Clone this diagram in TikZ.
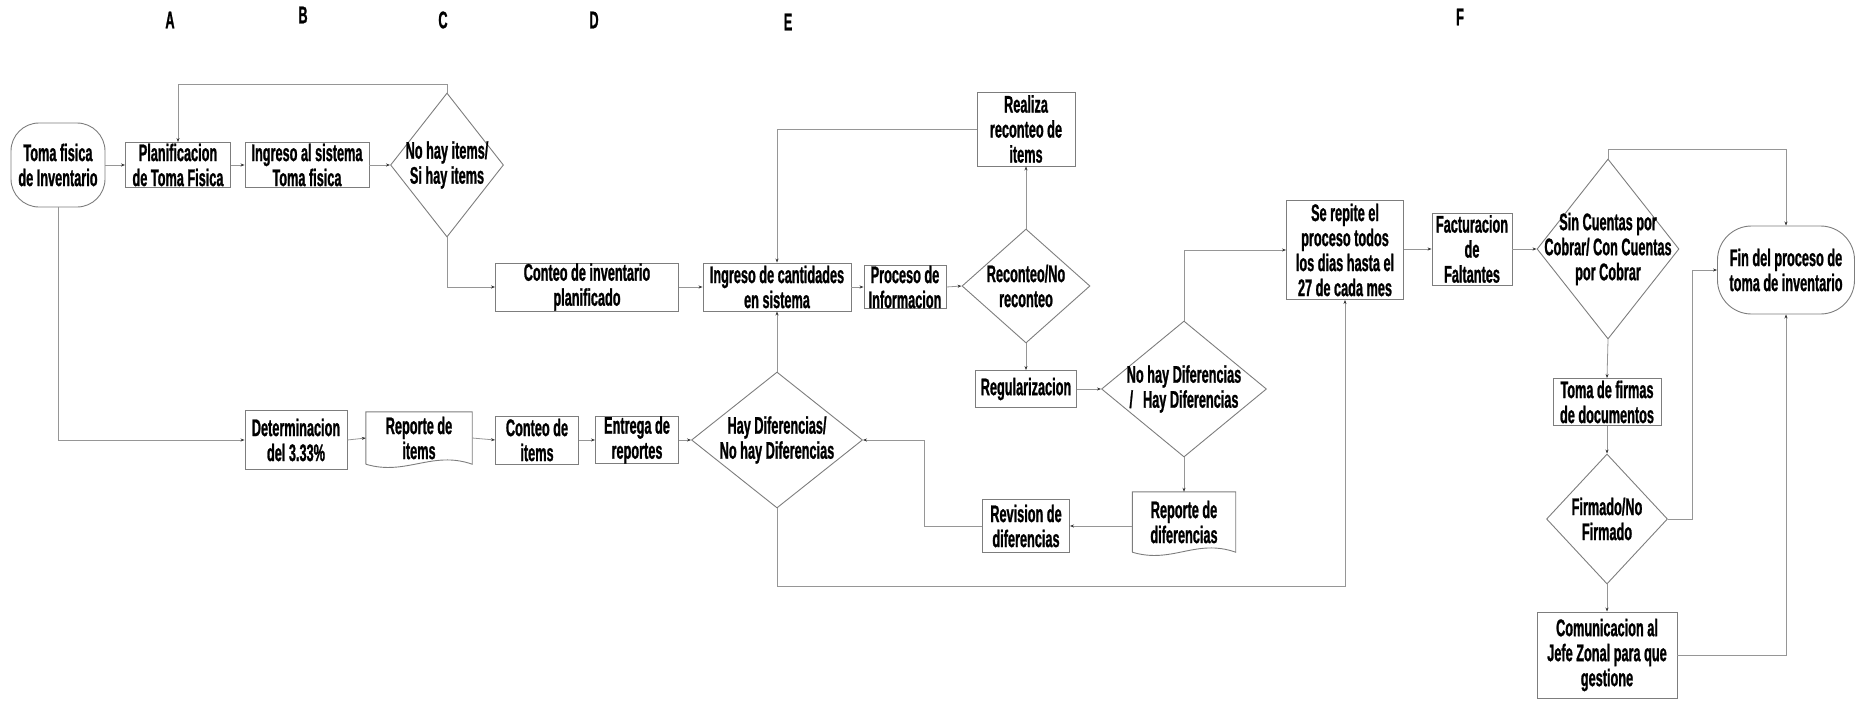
\documentclass[tikz,border=0pt]{standalone}
\usepackage{fontspec}
\setmainfont{Liberation Sans}[FakeStretch=0.53,FakeBold=1]
\usetikzlibrary{shapes.geometric,arrows.meta,calc}
\definecolor{lc}{RGB}{150,150,150}
\definecolor{bc}{RGB}{125,125,125}
\newcommand\dgfont{\fontsize{24}{25}\selectfont\bfseries}
\tikzset{
  box/.style={draw=bc, line width=0.9pt, inner sep=0pt, align=center, font=\dgfont},
  term/.style={box, rounded corners=28pt},
  docnode/.style={inner sep=0pt, align=center, font=\dgfont},
  docline/.style={draw=bc, line width=0.9pt},
  dia/.style={draw=bc, line width=0.9pt, shape=diamond, inner sep=0pt},
  lab/.style={align=center, font=\dgfont, inner sep=0pt},
  arr/.style={draw=lc, line width=0.8pt, -{Stealth[length=4pt,width=3pt,color=black!80]}},
  ln/.style={draw=lc, line width=0.8pt},
  col/.style={font=\dgfont, inner sep=0pt}
}
\begin{document}
\begin{tikzpicture}[x=1pt,y=-1pt]
\useasboundingbox (0,0) rectangle (1863,701);
% column letters
\node[col] (cA) at (170,20) {A};
\node[col] (cB) at (303,15) {B};
\node[col] (cC) at (443,20) {C};
\node[col] (cD) at (594,20) {D};
\node[col] (cE) at (788,22) {E};
\node[col] (cF) at (1460,17) {F};
% nodes
\node[term, minimum width=94pt, minimum height=84pt] (t1) at (58,165) {Toma fisica\\de Inventario};
\node[box, minimum width=105pt, minimum height=45pt] (p1) at (178,165) {Planificacion\\de Toma Fisica};
\node[box, minimum width=124pt, minimum height=45pt] (i1) at (307,165) {Ingreso al sistema\\Toma fisica};
\node[dia, minimum width=113pt, minimum height=144pt, label={[lab]center:{No hay items/\\Si hay items}}] (d1) at (447,165) {};
\node[box, minimum width=183pt, minimum height=48pt] (c1) at (587,287) {Conteo de inventario\\planificado};
\node[box, minimum width=148pt, minimum height=48pt] (c2) at (777,287) {Ingreso de cantidades\\en sistema};
\node[box, minimum width=82pt, minimum height=43pt] (pr) at (905,287) {Proceso de\\Informacion};
\node[box, minimum width=98pt, minimum height=74pt] (re) at (1026,129) {Realiza\\reconteo de\\items};
\node[dia, minimum width=128pt, minimum height=114pt, label={[lab]center:{Reconteo/No\\reconteo}}] (d2) at (1026,286) {};
\node[box, minimum width=101pt, minimum height=37pt] (rg) at (1026,389) {Regularizacion};
\node[dia, minimum width=165pt, minimum height=136pt, label={[lab]center:{No hay Diferencias\\/\hspace{10pt}Hay Diferencias}}] (d3) at (1184,389) {};
\node[docnode, minimum width=103pt, minimum height=60pt] (rd) at (1184,522) {Reporte de\\diferencias};
\draw[docline] (rd.south west) -- (rd.north west) -- (rd.north east) -- (rd.south east)
  .. controls +(-40,-14) and +(40,12) .. (rd.south west);
\node[box, minimum width=87pt, minimum height=53pt] (rv) at (1026,526) {Revision de\\diferencias};
\node[box, minimum width=102pt, minimum height=59pt] (dt) at (296,440) {Determinacion\\del 3.33\%};
\node[docnode, minimum width=106pt, minimum height=52pt] (ri) at (419,438) {Reporte de\\items};
\draw[docline] (ri.south west) -- (ri.north west) -- (ri.north east) -- (ri.south east)
  .. controls +(-40,-14) and +(40,12) .. (ri.south west);
\node[box, minimum width=83pt, minimum height=48pt] (ci) at (537,440) {Conteo de\\items};
\node[box, minimum width=83pt, minimum height=42pt] (er) at (637,440) {Entrega de\\reportes};
\node[dia, minimum width=171pt, minimum height=136pt, label={[lab]center:{Hay Diferencias/\\No hay Diferencias}}] (d4) at (777,440) {};
\node[box, minimum width=117pt, minimum height=99pt] (se) at (1345,250) {Se repite el\\proceso todos\\los dias hasta el\\27 de cada mes};
\node[box, minimum width=80pt, minimum height=72pt] (fa) at (1472,249) {Facturacion\\de\\Faltantes};
\node[dia, minimum width=142pt, minimum height=180pt, label={[lab]center:{Sin Cuentas por\\Cobrar/ Con Cuentas\\por Cobrar}}] (d5) at (1608,249) {};
\node[term, rounded corners=34pt, minimum width=137pt, minimum height=88pt] (fin) at (1786,270) {Fin del proceso de\\toma de inventario};
\node[box, minimum width=108pt, minimum height=47pt] (tf) at (1607,402) {Toma de firmas\\de documentos};
\node[dia, minimum width=121pt, minimum height=130pt, label={[lab]center:{Firmado/No\\Firmado}}] (d6) at (1607,519) {};
\node[box, minimum width=140pt, minimum height=86pt] (co) at (1607,655) {Comunicacion al\\Jefe Zonal para que\\gestione};
\coordinate (k1) at (924,440);
\coordinate (k3) at (1692,519);
% connectors
\draw[arr] (t1.east) -- (p1.west);
\draw[arr] (p1.east) -- (i1.west);
\draw[arr] (i1.east) -- (d1.west);
\draw[arr] (d1.north) -- ++(0,-8) -| (p1.north);
\draw[arr] (d1.south) |- (c1.west);
\draw[arr] (c1.east) -- (c2.west);
\draw[arr] (c2.east) -- (pr.west);
\draw[arr] (pr.east) -- (d2.west);
\draw[arr] (d2.north) -- (re.south);
\draw[arr] (re.west) -| (c2.north);
\draw[arr] (d2.south) -- (rg.north);
\draw[arr] (rg.east) -- (d3.west);
\draw[arr] (d3.north) |- (se.west);
\draw[arr] (d3.south) -- (rd.north);
\draw[arr] (rd.west |- rv.east) -- (rv.east);
\draw[arr] (rv.west) -| (k1) -- (d4.east);
\draw[arr] (d4.north) -- (c2.south);
\draw[arr] (t1.south) |- (dt.west);
\draw[arr] (dt.east) -- (ri.west);
\draw[arr] (ri.east) -- (ci.west);
\draw[arr] (ci.east) -- (er.west);
\draw[arr] (er.east) -- (d4.west);
\draw[arr] (d4.south) -- ++(0,78) -| (se.south);
\draw[arr] (se.east |- fa.west) -- (fa.west);
\draw[arr] (fa.east) -- (d5.west);
\draw[arr] (d5.north) -- ++(0,-9) -| (fin.north);
\draw[arr] (d5.south) -- (tf.north);
\draw[arr] (tf.south) -- (d6.north);
\draw[arr] (d6.east) -- (k3) |- (fin.west);
\draw[arr] (d6.south) -- (co.north);
\draw[arr] (co.east) -| (fin.south);
\end{tikzpicture}
\end{document}
